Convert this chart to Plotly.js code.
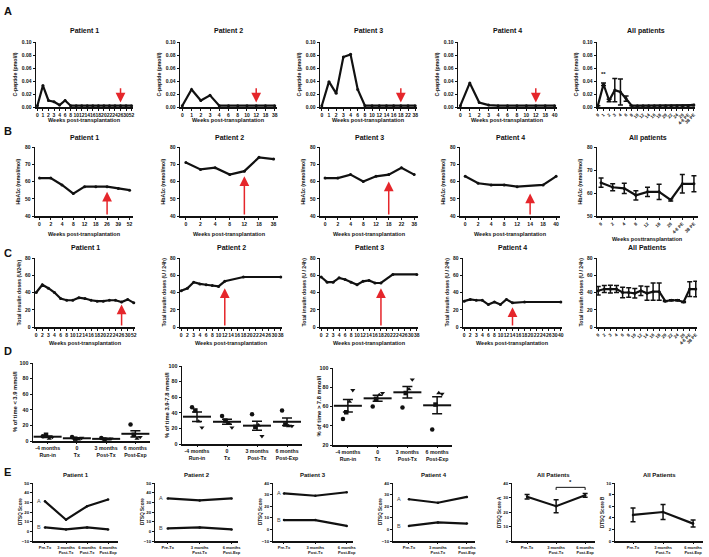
<!DOCTYPE html>
<html><head><meta charset="utf-8">
<script src="https://cdn.plot.ly/plotly-3.0.1.min.js"></script>
<style>html,body{margin:0;padding:0;background:#fff;}#chart{width:709px;height:557px;}</style>
</head><body><div id="chart"></div>
<script>
// ================= DATA =================
// Row A: C-peptide
const weeksA1 = ['0','1','2','3','4','6','8','10','12','14','16','18','20','22','24','26','30','52'];
const cpepA1 = [0.002,0.033,0.010,0.008,0.003,0.010,0.002,0.002,0.002,0.002,0.002,0.002,0.002,0.002,0.002,0.002,0.002,0.002];
const weeksA2 = ['0','1','2','3','4','6','8','10','12','18','38'];
const cpepA2 = [0.002,0.027,0.010,0.018,0.002,0.002,0.002,0.002,0.002,0.002,0.002];
const weeksA3 = ['0','1','2','3','4','6','8','10','12','14','16','18','22','38'];
const cpepA3 = [0.002,0.039,0.021,0.077,0.081,0.027,0.002,0.002,0.002,0.002,0.002,0.002,0.002,0.002];
const weeksA4 = ['0','1','2','3','4','6','8','10','12','18','40'];
const cpepA4 = [0.002,0.037,0.007,0.003,0.002,0.002,0.002,0.002,0.002,0.002,0.002];
const weeksAAll = ['0','1','2','3','4','6','8','10','12','14','16','18','20','22','24','26','4-6 PE','38 PE'];
const cpepAll = [0.002,0.035,0.010,0.026,0.023,0.013,0.002,0.002,0.002,0.002,0.002,0.002,0.002,0.002,0.002,0.002,0.002,0.003];
const cpepAllErr = [0,0.002,0.002,0.018,0.020,0.004,0,0,0,0,0,0,0,0,0,0,0,0.001];
const arrowWeeksA = ['26','12','18','12'];
const arrowTailA = 0.031, arrowTipA = 0.007;

// Row B: HbA1c
const weeksB1 = ['0','2','4','8','12','18','26','39','52'];
const hba1cB1 = [62,62,58,53,57,57,57,56,55];
const weeksB2 = ['0','2','4','8','12','18','38'];
const hba1cB2 = [71,67,68,64,66,74,73];
const weeksB3 = ['0','2','4','8','12','18','22','38'];
const hba1cB3 = [62,62,64,60,63,64,68,64];
const weeksB4 = ['0','2','4','8','12','14','18','40'];
const hba1cB4 = [63,59,58,58,57,null,58,63];
const weeksBAll = ['0','2','4','8','12','18','26','4-6 PE','38 PE'];
const hba1cAll = [64.5,62.5,62,59,60.5,60.5,57,64,64];
const hba1cAllErr = [2,1.5,2.2,2,2,3.3,0.5,4,3.5];
const arrowWeeksB = ['26','12','18','14'];
const arrowTipB = [54,63,60,53];

// Row C: total insulin doses
const weeksC1 = ['0','2','3','4','6','8','10','12','14','16','18','20','22','24','26','30','52'];
const insulinC1 = [40,49,45,40,33,31,31,34,33,31,30,30,31,31,29,32,28];
const weeksC2 = ['0','2','3','4','6','8','10','12','14','16','18','20','22','24','26','30','38'];
const insulinC2 = [42,45,52,50,49,48,47,53,null,null,58,null,null,null,null,null,58];
const weeksC3 = ['0','2','3','4','6','8','10','12','14','16','18','20','22','24','26','30','38'];
const insulinC3 = [58,52,52,57,55,52,49,53,54,51,51,null,61,null,null,null,61];
const weeksC4 = ['0','2','3','4','6','8','10','12','14','16','18','20','22','24','26','30','40'];
const insulinC4 = [30,32,31,31,26,29,26,32,28,null,29,null,null,null,null,null,29];
const weeksCAll = ['0','2','3','4','6','8','10','12','14','16','18','20','22','24','26','4-6 PE','38 PE'];
const insulinAll = [42,44,44,44,40,40,39,42,39,41,41,30,31,31,29,44,44];
const insulinAllErr = [5,4,4.5,4,6,5.5,5.5,5.5,8,10,10,0.5,0.5,0.5,0.5,8.5,9];
const arrowWeeksC = ['26','12','18','14'];
const arrowTipC = [26,45,45,23];

// Row D: CGM time in ranges (one array per patient, across periods)
const periods = ['-4 months<br>Run-in','0<br>Tx','3 months<br>Post-Tx','6 months<br>Post-Exp'];
const timeLowP1 = [6,5,4,21], timeLowP2 = [8,3,2,8], timeLowP3 = [3,2,2,3], timeLowP4 = [5,4,3,5];
const timeMidP1 = [47,36,38,43], timeMidP2 = [43,30,22,25], timeMidP3 = [29,27,24,23], timeMidP4 = [21,21,10,23];
const timeHighP1 = [47,60,59,36], timeHighP2 = [54,68,74,62], timeHighP3 = [65,72,78,74], timeHighP4 = [77,74,88,73];

// Row E: DTSQ
const dtsqCats4 = ['Pre-Tx','3 months<br>Post-Tx','6 months<br>Post-Tx','6 months<br>Post-Exp'];
const dtsqCats3 = ['Pre-Tx','3 months<br>Post-Tx','6 months<br>Post-Exp'];
const dtsqA_P1 = [31,12,26,33], dtsqB_P1 = [4,2,4,2];
const dtsqA_P2 = [34,32,34], dtsqB_P2 = [3,4,2];
const dtsqA_P3 = [31,29,32], dtsqB_P3 = [8,8,3];
const dtsqA_P4 = [26,23,28], dtsqB_P4 = [3,6,5];
const dtsqAllA = [30.5,24,31.5], dtsqAllAErr = [1.5,4.5,1.3];
const dtsqAllB = [4.5,5,3], dtsqAllBErr = [1.2,1.3,0.6];
const sigPair = [1,2], sigLevel = 37;

// ================= HELPERS =================
const FONT = '"Liberation Sans", Arial, sans-serif';
const INK = '#111';
const W = 709, H = 557;
const fx = p => p / W, fy = p => 1 - p / H;
const data = [], annotations = [], shapes = [];
const layout = {width:W, height:H, margin:{l:0,r:0,t:0,b:0}, showlegend:false,
  paper_bgcolor:'#fff', plot_bgcolor:'#fff', font:{family:FONT,color:INK}, annotations, shapes};
let count = 0;
const tf = (sz) => ({family:FONT, size:sz, color:INK, weight:'bold'});

function panel(box, xcfg, ycfg) {
  count++;
  const s = count === 1 ? '' : String(count);
  const xr = 'x' + s, yr = 'y' + s;
  const base = {showline:true, linecolor:INK, linewidth:1.5, ticks:'outside', ticklen:2, tickwidth:1,
    tickcolor:INK, showgrid:false, zeroline:false, fixedrange:true};
  layout['xaxis' + s] = Object.assign({}, base, {domain:[fx(box.l), fx(box.r)], anchor:yr, tickfont:tf(5), tickangle:0}, xcfg);
  layout['yaxis' + s] = Object.assign({}, base, {domain:[fy(box.b), fy(box.t)], anchor:xr, tickfont:tf(5)}, ycfg);
  return {xr, yr, box};
}
function title(p, text, y, size) {
  annotations.push({xref:'paper', yref:'paper', x:fx((p.box.l+p.box.r)/2), y:fy(y), text:'<b>'+text+'</b>',
    showarrow:false, font:{family:FONT,size:size||7,color:INK}, xanchor:'center', yanchor:'middle'});
}
function ytitle(p, text, off, size) {
  annotations.push({xref:'paper', yref:'paper', x:fx(p.box.l - off), y:fy((p.box.t+p.box.b)/2), text:'<b>'+text+'</b>',
    textangle:-90, showarrow:false, font:{family:FONT,size:size||5.2,color:INK}, xanchor:'center', yanchor:'middle'});
}
function xtitle(p, text, y) {
  annotations.push({xref:'paper', yref:'paper', x:fx((p.box.l+p.box.r)/2), y:fy(y), text:'<b>'+text+'</b>',
    showarrow:false, font:{family:FONT,size:5.5,color:INK}, xanchor:'center', yanchor:'middle'});
}
function letter(t, x, y) {
  annotations.push({xref:'paper', yref:'paper', x:fx(x), y:fy(y), text:'<b>'+t+'</b>', showarrow:false,
    font:{family:FONT,size:11,color:INK}, xanchor:'left', yanchor:'middle'});
}
function line(p, x, y, extra) {
  data.push(Object.assign({type:'scatter', mode:'lines+markers', x, y, xaxis:p.xr, yaxis:p.yr,
    line:{color:INK, width:2.2}, marker:{color:INK, size:3}, connectgaps:true, cliponaxis:false, hoverinfo:'skip'}, extra||{}));
}
function arrow(p, cats, cat, from, to) {
  const i = cats.indexOf(cat);
  annotations.push({xref:p.xr, yref:p.yr, axref:p.xr, ayref:p.yr, x:i, y:to, ax:i, ay:from, text:'',
    showarrow:true, arrowhead:2, arrowsize:1.3, arrowwidth:1.5, arrowcolor:'#e5262b'});
}
function errSpec(arr, w) { return {type:'data', array:arr, visible:true, color:INK, thickness:1.5, width:w||2.5}; }

function seriesPanel(box, cats, vals, o) {
  const padL = o.padL ?? 0.3, padR = o.padR ?? 0.3;
  const p = panel(box,
    {type:'category', categoryorder:'array', categoryarray:cats, tickmode:'array', tickvals:cats, ticktext:cats,
     range:[-padL, cats.length-1+padR], tickangle:o.rot ? -45 : 0, tickfont:tf(o.xfs||5)},
    {range:o.yr, tickmode:'linear', tick0:o.yr[0], dtick:o.dt, tickformat:o.fmt||''});
  line(p, cats, vals, o.err ? {error_y:errSpec(o.err)} : {});
  title(p, o.title, o.ty);
  ytitle(p, o.ytitle, o.yoff);
  if (o.xtitle) xtitle(p, o.xtitle, o.xty);
  return p;
}

// ================= ROW A =================
const tA = 42, bA = 107;
const boxesA = [{l:36,r:133},{l:180,r:277},{l:320,r:417},{l:458,r:557}];
const catsA = [weeksA1, weeksA2, weeksA3, weeksA4], valsA = [cpepA1, cpepA2, cpepA3, cpepA4];
boxesA.forEach((b,i) => {
  const p = seriesPanel({l:b.l, r:b.r, t:tA, b:bA}, catsA[i], valsA[i], {yr:[0,0.1], dt:0.02, fmt:'.2f',
    title:'Patient '+(i+1), ty:31, ytitle:'C-peptide (pmol/l)', yoff:22, xtitle:'Weeks post-transplantation', xty:120,
    padL:0.25, padR:0.25});
  arrow(p, catsA[i], arrowWeeksA[i], arrowTailA, arrowTipA);
});
const pAAll = seriesPanel({l:597, r:695, t:tA, b:bA}, weeksAAll, cpepAll, {yr:[0,0.1], dt:0.02, fmt:'.2f', err:cpepAllErr,
  title:'All patients', ty:31, ytitle:'C-peptide (nmol/l)', yoff:22, rot:true, xfs:4.5, padL:0.15, padR:0.2});
annotations.push({xref:pAAll.xr, yref:pAAll.yr, x:1, y:0.043, text:'<b>**</b>', showarrow:false,
  font:{family:FONT,size:6,color:INK}, yanchor:'bottom'});

// ================= ROW B =================
const tB = 147, bB = 216;
const boxesB = [{l:35,r:133},{l:180,r:278},{l:320,r:418},{l:460,r:560}];
const catsB = [weeksB1, weeksB2, weeksB3, weeksB4], valsB = [hba1cB1, hba1cB2, hba1cB3, hba1cB4];
boxesB.forEach((b,i) => {
  const p = seriesPanel({l:b.l, r:b.r, t:tB, b:bB}, catsB[i], valsB[i], {yr:[40,80], dt:10,
    title:'Patient '+(i+1), ty:138, ytitle:'HbA1c (mmol/mol)', yoff:17, xtitle:'Weeks post-transplantation', xty:234,
    padL:0.4, padR:0.3});
  arrow(p, catsB[i], arrowWeeksB[i], 40, arrowTipB[i]);
});
seriesPanel({l:597, r:698, t:tB, b:bB}, weeksBAll, hba1cAll, {yr:[50,80], dt:10, err:hba1cAllErr,
  title:'All patients', ty:138, ytitle:'HbA1c (mmol/mol)', yoff:17, rot:true, xfs:4.5,
  xtitle:'Weeks posttransplantation', xty:239, padL:0.35, padR:0.35});

// ================= ROW C =================
const tC = 258, bC = 327;
const boxesC = [{l:35,r:135},{l:180,r:282},{l:320,r:418},{l:463,r:562}];
const catsC = [weeksC1, weeksC2, weeksC3, weeksC4], valsC = [insulinC1, insulinC2, insulinC3, insulinC4];
const yTitlesC = ['Total insulin doses (U/24h)','Total insulin doses (U / 24h)','Total insulin doses (U / 24h)','Total insulin doses (U / 24h)'];
boxesC.forEach((b,i) => {
  const p = seriesPanel({l:b.l, r:b.r, t:tC, b:bC}, catsC[i], valsC[i], {yr:[0,80], dt:20,
    title:'Patient '+(i+1), ty:248, ytitle:yTitlesC[i], yoff:17, xtitle:'Weeks post-transplantation', xty:343,
    padL:0.2, padR:0.2});
  arrow(p, catsC[i], arrowWeeksC[i], 0, arrowTipC[i]);
});
seriesPanel({l:597, r:697, t:tC, b:bC}, weeksCAll, insulinAll, {yr:[0,80], dt:20, err:insulinAllErr,
  title:'All Patients', ty:248, ytitle:'Total insulin doses (U / 24h)', yoff:17, rot:true, xfs:4.5,
  padL:0.2, padR:0.2});

// ================= ROW D =================
const symbols = ['circle','square','triangle-up','triangle-down'];
function dotPanel(box, pts, yr, ytxt, yoff) {
  const p = panel(box, {type:'linear', range:[-0.5,3.5], tickmode:'array', tickvals:periods.map((_,k)=>k),
      ticktext:periods, tickfont:tf(5.2), ticklen:1.5},
    {range:yr, tickmode:'linear', tick0:yr[0], dtick:20, tickfont:tf(5.3)});
  pts.forEach((arr,i) => {
    const off = (i - 1.5) * 0.11;
    data.push({type:'scatter', mode:'markers', x:arr.map((v,k)=>k+off), y:arr, xaxis:p.xr, yaxis:p.yr,
      marker:{symbol:symbols[i], size:4.5, color:INK}, cliponaxis:false, hoverinfo:'skip'});
  });
  const means = periods.map((_,k) => pts.reduce((s,a)=>s+a[k],0)/pts.length);
  const sems = periods.map((_,k) => {
    const m = means[k];
    const v = pts.reduce((s,a)=>s+(a[k]-m)*(a[k]-m),0)/(pts.length-1);
    return Math.sqrt(v/pts.length);
  });
  data.push({type:'scatter', mode:'markers', x:periods.map((_,k)=>k), y:means, xaxis:p.xr, yaxis:p.yr,
    marker:{symbol:'line-ew-open', size:20, color:INK, line:{color:INK, width:2}}, error_y:errSpec(sems, 5),
    cliponaxis:false, hoverinfo:'skip'});
  ytitle(p, ytxt, yoff, 5.8);
  return p;
}
dotPanel({l:33,r:150,t:363,b:441}, [timeLowP1,timeLowP2,timeLowP3,timeLowP4], [0,100], '% of time &lt; 3.9 mmol/l', 18);
dotPanel({l:182,r:302,t:366,b:444}, [timeMidP1,timeMidP2,timeMidP3,timeMidP4], [0,100], '% of time 3.9-7.8 mmol/l', 15);
dotPanel({l:333,r:452,t:368,b:445}, [timeHighP1,timeHighP2,timeHighP3,timeHighP4], [20,100], '% of time &gt; 7.8 mmol/l', 15);

// ================= ROW E =================
const tE = 483, bE = 541;
function dtsqPanel(box, cats, a, b, yr, ttl, range) {
  const p = panel(box, {type:'category', categoryorder:'array', categoryarray:cats, tickmode:'array', tickvals:cats,
      ticktext:cats, range:range, tickfont:tf(4), ticklen:1.5},
    {range:yr, tickmode:'linear', tick0:yr[0], dtick:10, tickfont:tf(4.3), ticklen:1.5});
  line(p, cats, a, {marker:{color:INK,size:2.5}});
  line(p, cats, b, {marker:{color:INK,size:2.5}});
  title(p, ttl, 475, 6);
  ytitle(p, 'DTSQ Score', 13, 4.6);
  [['A',a[0]],['B',b[0]]].forEach(([t,v]) => annotations.push({xref:'paper', yref:p.yr, x:fx(box.l+6), y:v, text:t,
    showarrow:false, font:{family:FONT,size:5.5,color:'#444'}, xanchor:'center', yanchor:'middle'}));
  return p;
}
dtsqPanel({l:33,r:118,t:tE,b:bE}, dtsqCats4, dtsqA_P1, dtsqB_P1, [-10,50], 'Patient 1', [-0.57,3.47]);
dtsqPanel({l:155,r:238,t:tE,b:bE}, dtsqCats3, dtsqA_P2, dtsqB_P2, [-10,50], 'Patient 2', [-0.4,2.2]);
dtsqPanel({l:273,r:353,t:tE,b:bE}, dtsqCats3, dtsqA_P3, dtsqB_P3, [-10,40], 'Patient 3', [-0.35,2.2]);
dtsqPanel({l:393,r:475,t:tE,b:bE}, dtsqCats3, dtsqA_P4, dtsqB_P4, [-10,40], 'Patient 4', [-0.55,2.28]);

function dtsqAllPanel(box, vals, errs, yr, dt, ytxt, range) {
  const p = panel(box, {type:'category', categoryorder:'array', categoryarray:dtsqCats3, tickmode:'array',
      tickvals:dtsqCats3, ticktext:dtsqCats3, range:range, tickfont:tf(4), ticklen:1.5},
    {range:yr, tickmode:'linear', tick0:yr[0], dtick:dt, tickfont:tf(4.3), ticklen:1.5});
  line(p, dtsqCats3, vals, {marker:{color:INK,size:2.5}, error_y:errSpec(errs, 2.5)});
  title(p, 'All Patients', 475, 6);
  ytitle(p, ytxt, 13, 4.6);
  return p;
}
const pEA = dtsqAllPanel({l:512,r:595,t:tE,b:bE}, dtsqAllA, dtsqAllAErr, [0,40], 10, 'DTSQ Score A', [-0.52,2.34]);
shapes.push({type:'path', xref:pEA.xr, yref:pEA.yr,
  path:`M ${sigPair[0]} ${sigLevel-1.8} L ${sigPair[0]} ${sigLevel} L ${sigPair[1]} ${sigLevel} L ${sigPair[1]} ${sigLevel-1.8}`,
  line:{color:INK, width:1}});
annotations.push({xref:pEA.xr, yref:pEA.yr, x:(sigPair[0]+sigPair[1])/2, y:sigLevel+0.5, text:'<b>*</b>', showarrow:false,
  font:{family:FONT,size:6,color:INK}, yanchor:'bottom'});
dtsqAllPanel({l:615,r:703,t:tE,b:bE}, dtsqAllB, dtsqAllBErr, [0,10], 2, 'DTSQ Score B', [-0.6,2.33]);

// panel letters
letter('A', 2, 11); letter('B', 2, 131); letter('C', 2, 253); letter('D', 2, 351); letter('E', 2, 472);

Plotly.newPlot('chart', data, layout, {staticPlot:true, displayModeBar:false});
</script></body></html>
